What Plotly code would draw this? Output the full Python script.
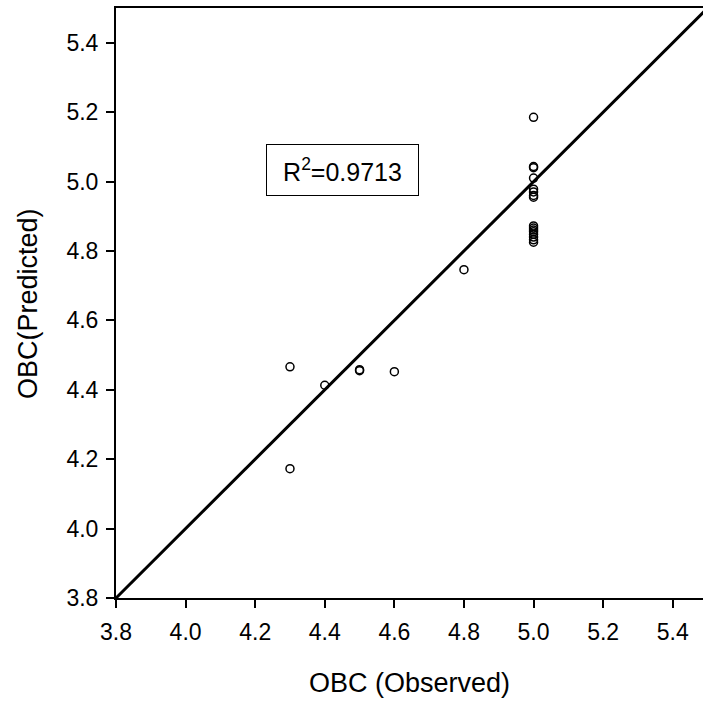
import plotly.graph_objects as go

obs = [5.0]*16 + [4.3, 4.3, 4.4, 4.5, 4.5, 4.6, 4.8]
pred = [5.185, 5.043, 5.04, 5.01, 4.978, 4.97, 4.96, 4.955,
        4.872, 4.866, 4.86, 4.855, 4.848, 4.84, 4.832, 4.825,
        4.466, 4.1725, 4.413, 4.458, 4.455, 4.452, 4.746]
line_xy = [3.8, 5.5]
r2_text = "R<sup>2</sup>=0.9713"
x_title = "OBC (Observed)"
y_title = "OBC(Predicted)"
ticks = [3.8, 4.0, 4.2, 4.4, 4.6, 4.8, 5.0, 5.2, 5.4]

FONT = "Liberation Sans"

fig = go.Figure()
fig.add_trace(go.Scatter(x=line_xy, y=line_xy, mode="lines",
                         line=dict(color="black", width=3), hoverinfo="skip"))
fig.add_trace(go.Scatter(x=obs, y=pred, mode="markers",
                         marker=dict(symbol="circle-open", size=8, color="black",
                                     line=dict(width=1.5, color="black"))))
fig.add_annotation(x=4.452, y=5.034, text=r2_text, showarrow=False,
                   font=dict(family=FONT, size=25, color="black"),
                   bordercolor="black", borderwidth=1, borderpad=0, bgcolor="white",
                   width=151, height=50)
fig.add_annotation(xref="paper", yref="paper", x=0.5, y=-0.144, text=x_title,
                   showarrow=False, xanchor="center", yanchor="middle",
                   font=dict(family=FONT, size=27, color="black"))
fig.add_annotation(xref="paper", yref="paper", x=-0.15, y=0.5, text=y_title,
                   showarrow=False, xanchor="center", yanchor="middle", textangle=-90,
                   font=dict(family=FONT, size=27, color="black"))

fig.update_layout(
    width=703, height=704, showlegend=False,
    paper_bgcolor="white", plot_bgcolor="white",
    margin=dict(l=116, r=0, t=8, b=106),
    font=dict(family=FONT, size=23, color="black"),
)
fig.update_xaxes(range=[3.8, 5.487], tickvals=ticks, ticktext=[f"{t:.1f}" for t in ticks],
                 tickfont=dict(family=FONT, size=23, color="black"),
                 showgrid=False, zeroline=False, showline=True, linecolor="black", linewidth=2,
                 mirror=True, ticks="outside", ticklen=8, tickwidth=1.5, tickcolor="black",
                 ticklabelstandoff=4)
fig.update_yaxes(range=[3.8, 5.5], tickvals=ticks, ticktext=[f"{t:.1f}" for t in ticks],
                 tickfont=dict(family=FONT, size=23, color="black"),
                 showgrid=False, zeroline=False, showline=True, linecolor="black", linewidth=2,
                 mirror=False, ticks="outside", ticklen=8, tickwidth=1.5, tickcolor="black",
                 ticklabelstandoff=3)
fig.write_html("out.html")
